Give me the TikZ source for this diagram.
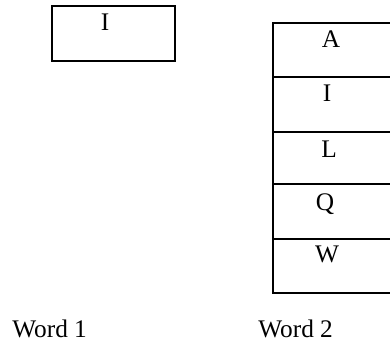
\documentclass[tikz,border=0pt]{standalone}
\usepackage{fontspec}
\setmainfont{Liberation Serif}
\begin{document}
\begin{tikzpicture}[x=0.75pt,y=-0.75pt,
  cell/.style={draw=black,line width=1.5pt},
  letter/.style={inner sep=0pt,anchor=base,font=\fontsize{19}{22}\selectfont},
  caption/.style={inner sep=0pt,anchor=base west,font=\fontsize{19}{22}\selectfont}]
\useasboundingbox (0,0) rectangle (390,344);
\clip (0,0) rectangle (390,344);
% Word 1: a single cell
\draw[cell] (52,6) rectangle (175,61);
\node[letter] (w1a) at (105,30) {I};
% Word 2: a column of five cells running off the right edge
\draw[cell] (273,23) rectangle (396,77);
\draw[cell] (273,77) rectangle (396,132);
\draw[cell] (273,132) rectangle (396,184);
\draw[cell] (273,184) rectangle (396,239);
\draw[cell] (273,239) rectangle (396,293);
\node[letter] (w2a) at (331,47) {A};
\node[letter] (w2b) at (327,101) {I};
\node[letter] (w2c) at (329,157) {L};
\node[letter] (w2d) at (325,210) {Q};
\node[letter] (w2e) at (327,262) {W};
% captions
\node[caption] (cap1) at (12,337) {Word 1};
\node[caption] (cap2) at (258,337) {Word 2};
\end{tikzpicture}
\end{document}
